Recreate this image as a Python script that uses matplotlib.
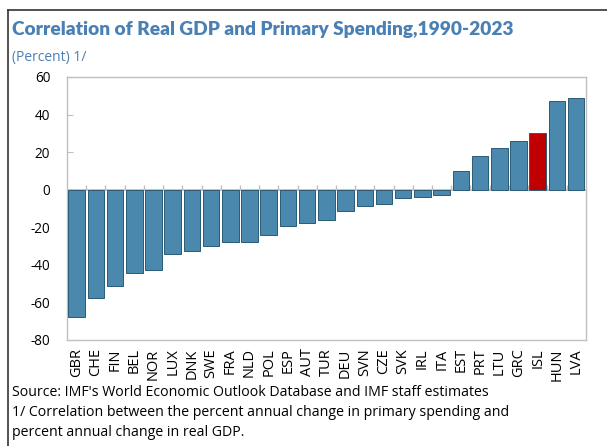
"""Correlation of real GDP and primary spending, 1990-2023 (bar chart)."""

import matplotlib

matplotlib.use("Agg")
import matplotlib.pyplot as plt
import numpy as np
from matplotlib.lines import Line2D

countries = [
    "GBR", "CHE", "FIN", "BEL", "NOR", "LUX", "DNK", "SWE", "FRA", "NLD",
    "POL", "ESP", "AUT", "TUR", "DEU", "SVN", "CZE", "SVK", "IRL", "ITA",
    "EST", "PRT", "LTU", "GRC", "ISL", "HUN", "LVA",
]
correlation = [
    -68.0, -57.5, -51.4, -44.5, -42.9, -34.4, -32.6, -29.8, -28.0, -27.7,
    -24.1, -19.3, -17.6, -16.3, -11.3, -8.5, -7.8, -4.6, -4.0, -3.0,
    10.0, 17.8, 22.4, 25.9, 30.0, 47.2, 48.6,
]
highlight = "ISL"
y_ticks = [-80, -60, -40, -20, 0, 20, 40, 60]

BLUE = "#4a89ad"
EDGE = "#2b5a75"
RED = "#c00000"
TITLE_BLUE = "#4a80b3"
GRID_GRAY = "#bfbfbf"

plt.rcParams["font.family"] = ["Open Sans", "DejaVu Sans"]

fig = plt.figure(figsize=(6.07, 4.46), dpi=100)
ax = fig.add_axes([0.1104, 0.2377, 0.8546, 0.5897])

x = np.arange(len(countries))
colors = [RED if c == highlight else BLUE for c in countries]
ax.bar(x, correlation, width=0.86, color=colors, edgecolor=EDGE,
       linewidth=0.7, zorder=3)

# zero line with small category ticks pointing up
ax.axhline(0, color=GRID_GRAY, linewidth=1.3, zorder=2)
bounds = np.arange(len(countries) + 1) - 0.5
ax.vlines(bounds[1:-1], 0, 2.6, color=GRID_GRAY, linewidth=1.0, zorder=2)

ax.set_xlim(-0.5, len(countries) - 0.5)
ax.set_ylim(-80, 60)
ax.set_yticks(y_ticks)
ax.set_yticklabels([str(v) for v in y_ticks])
ax.set_xticks(x)
ax.set_xticklabels(countries, rotation=90)
ax.tick_params(axis="y", direction="in", length=4, color=GRID_GRAY,
               labelsize=9.8, pad=12)
ax.tick_params(axis="x", length=0, labelsize=10.5, pad=6)
for spine in ax.spines.values():
    spine.set_color(GRID_GRAY)
    spine.set_linewidth(1.0)

fig.text(12 / 607, 1 - 30 / 446, "Correlation of Real GDP and Primary Spending,1990-2023",
         fontsize=13.8, fontweight="heavy", color=TITLE_BLUE, va="center", ha="left",
         family=["Lato", "DejaVu Sans"])
fig.text(12 / 607, 1 - 57 / 446, "(Percent) 1/", fontsize=10,
         color=TITLE_BLUE, va="center", ha="left")

notes = [
    "Source: IMF's World Economic Outlook Database and IMF staff estimates",
    "1/ Correlation between the percent annual change in primary spending and",
    "percent annual change in real GDP.",
]
for i, line in enumerate(notes):
    fig.text(12 / 607, 1 - (393 + 20 * i) / 446, line, fontsize=10.2,
             color="black", va="center", ha="left")

# outer frame (left and top only, as in the original crop)
fig.add_artist(Line2D([7.5 / 607, 7.5 / 607], [0, 1 - 10 / 446],
                      transform=fig.transFigure, color="#333333", linewidth=1.2))
fig.add_artist(Line2D([7.5 / 607, 1], [1 - 10 / 446, 1 - 10 / 446],
                      transform=fig.transFigure, color="#333333", linewidth=1.2))

fig.savefig("out.png", dpi=100)
